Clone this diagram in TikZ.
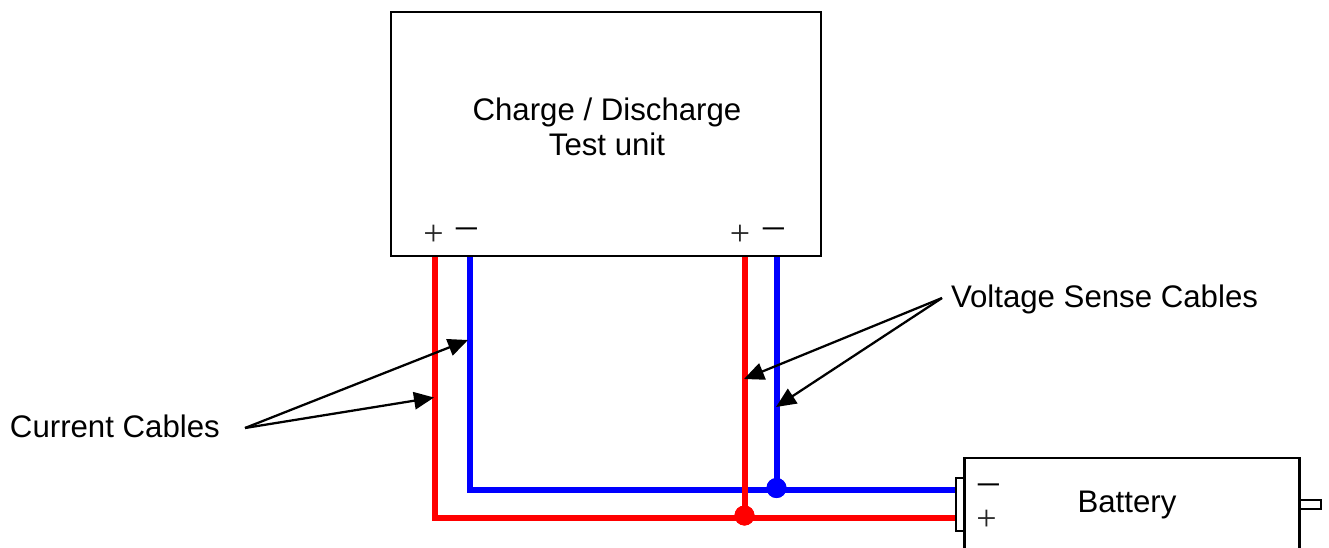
\documentclass[tikz,border=0pt]{standalone}
\usepackage{fontspec}
\setmainfont{Liberation Sans}
\newfontfamily\signfont{Liberation Serif}
\usetikzlibrary{arrows.meta}
\tikzset{
  boxnode/.style={draw=black,line width=1.6pt,fill=white,inner sep=0pt,outer sep=0pt},
  wirered/.style={draw=red,line width=4.5pt,line join=miter},
  wireblue/.style={draw=blue,line width=4.5pt,line join=miter},
  pointer/.style={draw=black,line width=1.7pt,-{Triangle[length=15pt,width=13pt]},shorten >=0pt},
  lbl/.style={font=\fontsize{23.4}{28}\selectfont,inner sep=0pt,outer sep=0pt,anchor=base,align=center},
  plussign/.style={font=\signfont\fontsize{27}{27}\selectfont,text=black!85,inner sep=0pt,anchor=center},
  minussign/.style={font=\signfont\fontsize{31}{31}\selectfont,inner sep=0pt,anchor=center},
  dotnode/.style={circle,minimum size=15pt,inner sep=0pt,outer sep=0pt}
}
\begin{document}
\begin{tikzpicture}[x=0.75pt,y=-0.75pt]
\clip (0,0) rectangle (1329,547);
\fill[white] (0,0) rectangle (1329,547);
% named connection points
\coordinate (ca) at (435,256);
\coordinate (cb) at (470,256);
\coordinate (va) at (745,256);
\coordinate (vb) at (776.5,256);
\coordinate (ccorner1) at (435,517.5);
\coordinate (ccorner2) at (470,490);
\coordinate (cur) at (245,428);
\coordinate (vol) at (942,298);
\coordinate (tip1) at (468,340);
\coordinate (tip2) at (434,397.5);
\coordinate (tip3) at (744,379);
\coordinate (tip4) at (776,407);
\node[dotnode,fill=blue] (jb) at (776.5,488) {};
\node[dotnode,fill=red] (jr) at (744.5,515.5) {};
\coordinate (tb) at (956,490);
\coordinate (tr) at (956,517.5);
% wires
\draw[wirered] (ca) -- (ccorner1) -- (tr);
\draw[wireblue] (vb) -- (vb |- jb);
\draw[wireblue] (cb) -- (ccorner2) -- (tb);
\draw[wirered] (va) -- (va |- jr);
\node[dotnode,fill=blue] at (jb) {};
\node[dotnode,fill=red] at (jr) {};
% boxes
\node[boxnode,minimum width=322.5pt,minimum height=183pt] (unit) at (606,134) {};
\node[boxnode,minimum width=6.5pt,minimum height=39.75pt] (bterm) at (960,504.5) {};
\node[boxnode,minimum width=16.5pt,minimum height=6.75pt] (pterm) at (1310,504.5) {};
\node[boxnode,minimum width=251.25pt,minimum height=150pt] (battery) at (1132,558) {};
% texts
\node[lbl] (t1) at (607,120) {Charge / Discharge};
\node[lbl] (t2) at (607,155) {Test unit};
\node[lbl] (bat) at (1127,512) {Battery};
\node[lbl,anchor=base west] (cc) at (10,437) {Current Cables};
\node[lbl,anchor=base west] (vc) at (951,307) {Voltage Sense Cables};
\node[plussign] (p1) at (433.5,235) {+};
\node[plussign] (p2) at (740,235) {+};
\node[plussign] (p3) at (986.5,520) {+};
\node[minussign] (m1) at (466.5,233) {–};
\node[minussign] (m2) at (773.5,233) {–};
\node[minussign] (m3) at (988.5,489) {–};
% pointers
\draw[pointer] (cur) -- (tip1);
\draw[pointer] (cur) -- (tip2);
\draw[pointer] (vol) -- (tip3);
\draw[pointer] (vol) -- (tip4);
\end{tikzpicture}
\end{document}
